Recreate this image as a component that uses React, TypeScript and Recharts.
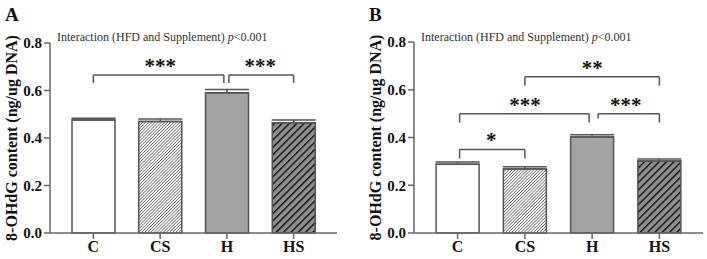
import React from 'react';
import {
  BarChart, Bar, Cell, XAxis, YAxis, ErrorBar, ReferenceLine,
} from 'recharts';

// groups and measured 8-OHdG values (ng/ug DNA)
const groups = ['C', 'CS', 'H', 'HS'];
const meansA = [0.476, 0.469, 0.591, 0.464];
const errA = [0.007, 0.011, 0.013, 0.012];
const meansB = [0.288, 0.268, 0.402, 0.302];
const errB = [0.009, 0.009, 0.010, 0.008];
const yTicks = [0, 0.2, 0.4, 0.6, 0.8];

// significance brackets: [from, to, top y, leg y (from), leg y (to), stars, px shift from, px shift to]
type Bracket = [string, string, number, number, number, string, number, number];
const bracketsA: Bracket[] = [
  ['C', 'H', 0.665, 0.632, 0.632, '***', 0, -3],
  ['H', 'HS', 0.665, 0.632, 0.632, '***', 2, 0],
];
const bracketsB: Bracket[] = [
  ['C', 'CS', 0.35, 0.3125, 0.3125, '*', 2, 0],
  ['C', 'H', 0.5, 0.4625, 0.4625, '***', 2, -3],
  ['H', 'HS', 0.5, 0.48, 0.4625, '***', 6, 0],
  ['CS', 'HS', 0.654, 0.617, 0.617, '**', 0, 0],
];

const fills = ['#ffffff', 'url(#hatchThin)', '#a3a3a3', 'url(#hatchThick)'];
const FONT = '"Liberation Serif", "Times New Roman", serif';
const AXIS = '#666';

const shifted = (dx1: number, dx2: number) => (p: any) => (
  <line x1={p.x1 + dx1} y1={p.y1} x2={p.x2 + dx2} y2={p.y2} stroke="#555" strokeWidth={1.5} />
);

function renderBrackets(list: Bracket[], prefix: string) {
  const out: React.ReactNode[] = [];
  list.forEach(([a, b, top, legA, legB, stars, dxA, dxB], i) => {
    out.push(
      <ReferenceLine
        key={`${prefix}-t${i}`}
        segment={[{ x: a, y: top }, { x: b, y: top }]}
        shape={shifted(dxA, dxB)}
        label={{ value: stars, position: 'top', offset: 2, fontSize: 21, fontWeight: 'bold', fill: '#111', fontFamily: FONT }}
      />,
      <ReferenceLine key={`${prefix}-a${i}`} segment={[{ x: a, y: top }, { x: a, y: legA }]} shape={shifted(dxA, dxA)} />,
      <ReferenceLine key={`${prefix}-b${i}`} segment={[{ x: b, y: top }, { x: b, y: legB }]} shape={shifted(dxB, dxB)} />,
    );
  });
  return out;
}

function Panel({ letter, means, errs, brackets, width, margin }: {
  letter: string; means: number[]; errs: number[]; brackets: Bracket[]; width: number; margin: any;
}) {
  const data = groups.map((g, i) => ({ name: g, value: means[i], err: [0, errs[i]] }));
  return (
    <BarChart width={width} height={259} data={data} margin={margin} barCategoryGap="18%">
      <defs>
        <pattern id="hatchThin" patternUnits="userSpaceOnUse" width="2.2" height="2.2" patternTransform="rotate(45)">
          <rect width="2.2" height="2.2" fill="#fff" />
          <line x1="0" y1="0" x2="0" y2="2.2" stroke="#333" strokeWidth="1.1" />
        </pattern>
        <pattern id="hatchThick" patternUnits="userSpaceOnUse" width="5.2" height="5.2" patternTransform="rotate(45)">
          <rect width="5.2" height="5.2" fill="#8e8e8e" />
          <line x1="0" y1="0" x2="0" y2="5.2" stroke="#111" strokeWidth="2.8" />
        </pattern>
      </defs>
      <text x={5} y={21} fontFamily={FONT} fontWeight="bold" fontSize={19} fill="#111">{letter}</text>
      <text x={57} y={41} fontFamily={FONT} fontSize={12} fill="#333">
        Interaction (HFD and Supplement) <tspan fontStyle="italic">p</tspan>{'<0.001'}
      </text>
      <XAxis
        dataKey="name"
        height={26}
        padding={{ left: 10, right: 10 }}
        stroke={AXIS}
        strokeWidth={1.5}
        tickLine={{ stroke: AXIS, strokeWidth: 1.5 }}
        tick={{ fontFamily: FONT, fontWeight: 'bold', fontSize: 16, fill: '#111' }}
      />
      <YAxis
        width={50}
        domain={[0, 0.8]}
        ticks={yTicks}
        tickFormatter={(v: number) => v.toFixed(1)}
        stroke={AXIS}
        strokeWidth={1.5}
        tickLine={{ stroke: AXIS, strokeWidth: 1.5 }}
        tick={{ fontFamily: FONT, fontWeight: 'bold', fontSize: 15, fill: '#111' }}
        label={{
          value: '8-OHdG content (ng/ug DNA)', angle: -90, position: 'insideLeft', offset: 11,
          style: { textAnchor: 'middle', fontFamily: FONT, fontWeight: 'bold', fontSize: 16, fill: '#111' },
        }}
      />
      <Bar dataKey="value" stroke="#555" strokeWidth={1.5} isAnimationActive={false}>
        {data.map((_, i) => <Cell key={i} fill={fills[i]} />)}
        <ErrorBar dataKey="err" direction="y" width={22} stroke="#555" strokeWidth={1.5} />
      </Bar>
      {renderBrackets(brackets, letter)}
    </BarChart>
  );
}

export default function App() {
  return (
    <div style={{ position: 'absolute', left: 0, top: 0, width: 707, height: 259, background: '#fff' }}>
      <div style={{ position: 'absolute', left: 0, top: 0 }}>
        <Panel letter="A" means={meansA} errs={errA} brackets={bracketsA} width={355}
          margin={{ top: 43, right: 18, bottom: 0, left: 0 }} />
      </div>
      <div style={{ position: 'absolute', left: 364, top: 0 }}>
        <Panel letter="B" means={meansB} errs={errB} brackets={bracketsB} width={343}
          margin={{ top: 42, right: 4, bottom: 0, left: 0 }} />
      </div>
    </div>
  );
}
